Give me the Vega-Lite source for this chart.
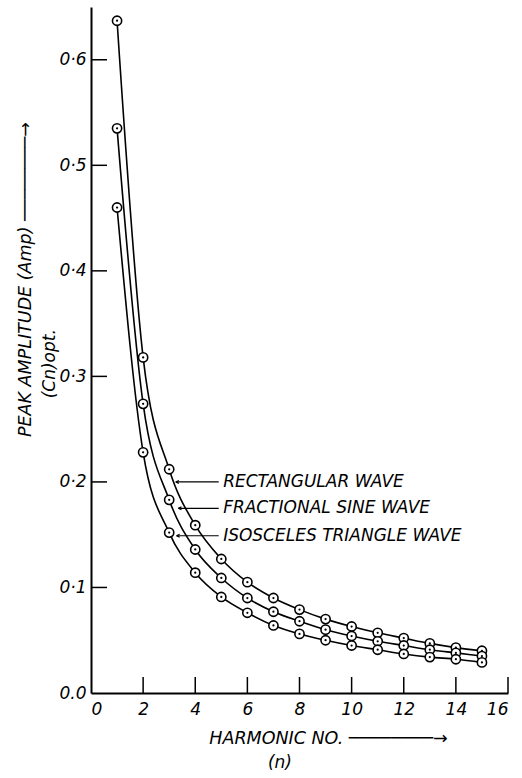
{
  "$schema": "https://vega.github.io/schema/vega-lite/v6.json",
  "width": 417,
  "height": 686,
  "autosize": "none",
  "padding": {"left": 91, "top": 7, "right": 14, "bottom": 85},
  "background": "white",
  "config": {
    "view": {"stroke": null},
    "font": "DejaVu Sans",
    "axis": {
      "grid": false,
      "domainColor": "black",
      "domainWidth": 2,
      "labelColor": "black",
      "labelFont": "DejaVu Sans",
      "labelFontStyle": "italic",
      "labelFontSize": 17,
      "labelFontWeight": "normal",
      "titleColor": "black",
      "titleFont": "DejaVu Sans",
      "titleFontStyle": "italic",
      "titleFontWeight": "normal",
      "titleFontSize": 17.5
    }
  },
  "datasets": {
    "curves": [
      {"n": 1, "series": "Rectangular wave", "amp": 0.637},
      {"n": 2, "series": "Rectangular wave", "amp": 0.318},
      {"n": 3, "series": "Rectangular wave", "amp": 0.212},
      {"n": 4, "series": "Rectangular wave", "amp": 0.159},
      {"n": 5, "series": "Rectangular wave", "amp": 0.127},
      {"n": 6, "series": "Rectangular wave", "amp": 0.105},
      {"n": 7, "series": "Rectangular wave", "amp": 0.090},
      {"n": 8, "series": "Rectangular wave", "amp": 0.079},
      {"n": 9, "series": "Rectangular wave", "amp": 0.070},
      {"n": 10, "series": "Rectangular wave", "amp": 0.063},
      {"n": 11, "series": "Rectangular wave", "amp": 0.057},
      {"n": 12, "series": "Rectangular wave", "amp": 0.052},
      {"n": 13, "series": "Rectangular wave", "amp": 0.047},
      {"n": 14, "series": "Rectangular wave", "amp": 0.043},
      {"n": 15, "series": "Rectangular wave", "amp": 0.040},
      {"n": 1, "series": "Fractional sine wave", "amp": 0.535},
      {"n": 2, "series": "Fractional sine wave", "amp": 0.274},
      {"n": 3, "series": "Fractional sine wave", "amp": 0.183},
      {"n": 4, "series": "Fractional sine wave", "amp": 0.136},
      {"n": 5, "series": "Fractional sine wave", "amp": 0.109},
      {"n": 6, "series": "Fractional sine wave", "amp": 0.090},
      {"n": 7, "series": "Fractional sine wave", "amp": 0.077},
      {"n": 8, "series": "Fractional sine wave", "amp": 0.068},
      {"n": 9, "series": "Fractional sine wave", "amp": 0.060},
      {"n": 10, "series": "Fractional sine wave", "amp": 0.054},
      {"n": 11, "series": "Fractional sine wave", "amp": 0.049},
      {"n": 12, "series": "Fractional sine wave", "amp": 0.045},
      {"n": 13, "series": "Fractional sine wave", "amp": 0.041},
      {"n": 14, "series": "Fractional sine wave", "amp": 0.038},
      {"n": 15, "series": "Fractional sine wave", "amp": 0.035},
      {"n": 1, "series": "Isosceles triangle wave", "amp": 0.460},
      {"n": 2, "series": "Isosceles triangle wave", "amp": 0.228},
      {"n": 3, "series": "Isosceles triangle wave", "amp": 0.152},
      {"n": 4, "series": "Isosceles triangle wave", "amp": 0.114},
      {"n": 5, "series": "Isosceles triangle wave", "amp": 0.091},
      {"n": 6, "series": "Isosceles triangle wave", "amp": 0.076},
      {"n": 7, "series": "Isosceles triangle wave", "amp": 0.064},
      {"n": 8, "series": "Isosceles triangle wave", "amp": 0.056},
      {"n": 9, "series": "Isosceles triangle wave", "amp": 0.050},
      {"n": 10, "series": "Isosceles triangle wave", "amp": 0.045},
      {"n": 11, "series": "Isosceles triangle wave", "amp": 0.041},
      {"n": 12, "series": "Isosceles triangle wave", "amp": 0.037},
      {"n": 13, "series": "Isosceles triangle wave", "amp": 0.034},
      {"n": 14, "series": "Isosceles triangle wave", "amp": 0.032},
      {"n": 15, "series": "Isosceles triangle wave", "amp": 0.029}
    ],
    "xticks": [{"n": 2}, {"n": 4}, {"n": 6}, {"n": 8}, {"n": 10}, {"n": 12}, {"n": 14}, {"n": 16}],
    "yticks": [{"v": 0.1}, {"v": 0.2}, {"v": 0.3}, {"v": 0.4}, {"v": 0.5}, {"v": 0.6}],
    "labels": [
      {"x": 5.07, "y": 0.200, "ax": 4.9, "ax2": 3.25, "label": "RECTANGULAR WAVE"},
      {"x": 5.07, "y": 0.175, "ax": 4.9, "ax2": 3.35, "label": "FRACTIONAL SINE WAVE"},
      {"x": 5.07, "y": 0.149, "ax": 4.9, "ax2": 3.28, "label": "ISOSCELES TRIANGLE WAVE"}
    ],
    "extra": [
      {"x": -1.57, "y": 0.312, "label": "(Cn)opt.", "angle": 270},
      {"x": 7.25, "y": -0.066, "label": "(n)", "angle": 0}
    ]
  },
  "layer": [
    {
      "data": {"name": "curves"},
      "mark": {"type": "line", "interpolate": "monotone", "color": "black", "strokeWidth": 1.6},
      "encoding": {
        "x": {
          "field": "n", "type": "quantitative",
          "scale": {"domain": [0, 16], "nice": false},
          "axis": {
            "orient": "bottom",
            "values": [0, 2, 4, 6, 8, 10, 12, 14, 16],
            "ticks": false,
            "labelPadding": 8,
            "title": "HARMONIC NO. ────────→",
            "titleX": 237,
            "titleY": 45,
            "titleAlign": "center",
            "titleBaseline": "middle"
          }
        },
        "y": {
          "field": "amp", "type": "quantitative",
          "scale": {"domain": [0, 0.65], "nice": false},
          "axis": {
            "orient": "left",
            "values": [0, 0.1, 0.2, 0.3, 0.4, 0.5, 0.6],
            "ticks": false,
            "labelPadding": 5,
            "labelExpr": "datum.value == 0 ? '0.0' : replace(format(datum.value, '.1f'), '.', '·')",
            "title": "PEAK AMPLITUDE (Amp) ────────→",
            "titleAngle": 270,
            "titleX": -66,
            "titleY": 272,
            "titleAlign": "center",
            "titleBaseline": "middle"
          }
        },
        "detail": {"field": "series", "type": "nominal"}
      }
    },
    {
      "data": {"name": "xticks"},
      "mark": {"type": "tick", "orient": "vertical", "color": "black", "thickness": 1.5, "size": 16, "yOffset": -8, "opacity": 1},
      "encoding": {
        "x": {"field": "n", "type": "quantitative"},
        "y": {"datum": 0, "type": "quantitative"}
      }
    },
    {
      "data": {"name": "yticks"},
      "mark": {"type": "tick", "orient": "horizontal", "color": "black", "thickness": 1.5, "size": 16, "xOffset": 8, "opacity": 1},
      "encoding": {
        "y": {"field": "v", "type": "quantitative"},
        "x": {"datum": 0, "type": "quantitative"}
      }
    },
    {
      "data": {"name": "curves"},
      "mark": {"type": "point", "shape": "circle", "filled": true, "fill": "white", "stroke": "black", "strokeWidth": 1.6, "size": 85, "opacity": 1},
      "encoding": {
        "x": {"field": "n", "type": "quantitative"},
        "y": {"field": "amp", "type": "quantitative"}
      }
    },
    {
      "data": {"name": "curves"},
      "mark": {"type": "point", "shape": "circle", "filled": true, "color": "black", "size": 5, "opacity": 1},
      "encoding": {
        "x": {"field": "n", "type": "quantitative"},
        "y": {"field": "amp", "type": "quantitative"}
      }
    },
    {
      "data": {"name": "labels"},
      "mark": {"type": "text", "align": "left", "baseline": "middle", "fontStyle": "italic", "fontSize": 17, "color": "black", "font": "DejaVu Sans"},
      "encoding": {
        "x": {"field": "x", "type": "quantitative"},
        "y": {"field": "y", "type": "quantitative"},
        "text": {"field": "label"}
      }
    },
    {
      "data": {"name": "labels"},
      "mark": {"type": "rule", "color": "black", "strokeWidth": 1.2},
      "encoding": {
        "x": {"field": "ax", "type": "quantitative"},
        "x2": {"field": "ax2"},
        "y": {"field": "y", "type": "quantitative"}
      }
    },
    {
      "data": {"name": "labels"},
      "mark": {"type": "point", "shape": "M0,0L1,-0.45M0,0L1,0.45", "filled": false, "stroke": "black", "strokeWidth": 1.2, "size": 40, "opacity": 1},
      "encoding": {
        "x": {"field": "ax2", "type": "quantitative"},
        "y": {"field": "y", "type": "quantitative"}
      }
    },
    {
      "data": {"name": "extra"},
      "mark": {"type": "text", "align": "center", "baseline": "middle", "fontStyle": "italic", "fontSize": 17, "color": "black", "font": "DejaVu Sans"},
      "encoding": {
        "x": {"field": "x", "type": "quantitative"},
        "y": {"field": "y", "type": "quantitative"},
        "text": {"field": "label"},
        "angle": {"field": "angle", "type": "quantitative", "scale": null}
      }
    }
  ]
}
